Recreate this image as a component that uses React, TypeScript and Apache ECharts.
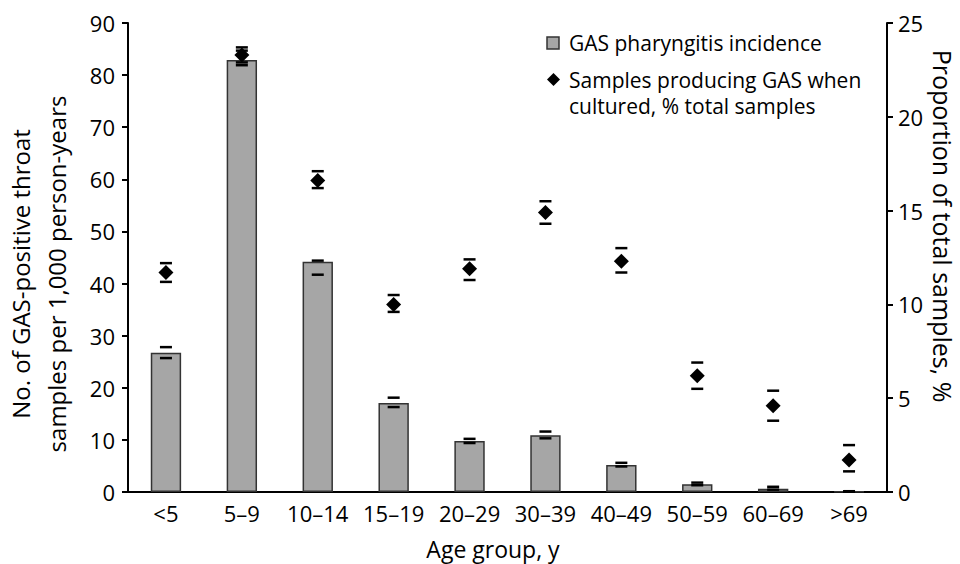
import React, { useEffect, useRef } from "react";
import * as echarts from "echarts";

const categories = ["<5", "5–9", "10–14", "15–19", "20–29", "30–39", "40–49", "50–59", "60–69", ">69"];
const incidence = [26.7, 82.9, 44.2, 17.1, 9.8, 10.9, 5.2, 1.5, 0.6, 0.1];
const incidenceLow = [25.7, 81.9, 41.7, 16.3, 9.4, 10.3, 4.9, 1.3, 0.45, 0.05];
const incidenceHigh = [27.8, 84.7, 44.4, 18.1, 10.2, 11.6, 5.6, 1.8, 1.0, 0.15];
const proportion = [11.7, 23.3, 16.6, 10.0, 11.9, 14.9, 12.3, 6.2, 4.6, 1.7];
const proportionLow = [11.2, 22.9, 16.2, 9.6, 11.3, 14.3, 11.7, 5.5, 3.8, 1.1];
const proportionHigh = [12.2, 23.7, 17.1, 10.5, 12.4, 15.5, 13.0, 6.9, 5.4, 2.5];
const leftTicks = { min: 0, max: 90, interval: 10 };
const rightTicks = { min: 0, max: 25, interval: 5 };

const FONT = '"Open Sans", "DejaVu Sans", sans-serif';

function capsRender(params: any, api: any) {
  const x = api.value(0);
  const lo = api.coord([x, api.value(1)]);
  const hi = api.coord([x, api.value(2)]);
  const half = 6;
  const style = { stroke: "#000", lineWidth: 2.5 };
  return {
    type: "group",
    children: [
      { type: "line", shape: { x1: lo[0] - half, y1: lo[1], x2: lo[0] + half, y2: lo[1] }, style },
      { type: "line", shape: { x1: hi[0] - half, y1: hi[1], x2: hi[0] + half, y2: hi[1] }, style },
    ],
  };
}

export default function App() {
  const ref = useRef<HTMLDivElement>(null);
  useEffect(() => {
    if (!ref.current) return;
    const chart = echarts.init(ref.current, null, { renderer: "svg" });
    const axisLine = { show: true, lineStyle: { color: "#000", width: 2 } };
    chart.setOption({
      animation: false,
      backgroundColor: "#fff",
      textStyle: { fontFamily: FONT },
      grid: { left: 128, right: 73, top: 23, bottom: 72, containLabel: false },
      xAxis: {
        type: "category",
        data: categories,
        axisLine,
        axisTick: { show: false },
        axisLabel: { color: "#000", fontSize: 22, fontFamily: FONT, margin: 10, interval: 0 },
        splitLine: { show: false },
      },
      yAxis: [
        {
          type: "value",
          position: "left",
          ...leftTicks,
          axisLine,
          axisTick: { show: true, length: 6, lineStyle: { color: "#000", width: 2 } },
          axisLabel: { color: "#000", fontSize: 22, fontFamily: FONT, margin: 13 },
          splitLine: { show: false },
        },
        {
          type: "value",
          position: "right",
          ...rightTicks,
          axisLine,
          axisTick: { show: true, length: 6, lineStyle: { color: "#000", width: 2 } },
          axisLabel: { color: "#000", fontSize: 22, fontFamily: FONT, margin: 11 },
          splitLine: { show: false },
        },
      ],
      series: [
        {
          name: "GAS pharyngitis incidence",
          type: "bar",
          yAxisIndex: 0,
          data: incidence,
          barWidth: "40%",
          itemStyle: { color: "#a6a6a6", borderColor: "#333", borderWidth: 1.5 },
        },
        {
          name: "incidence CI",
          type: "custom",
          yAxisIndex: 0,
          renderItem: capsRender,
          data: categories.map((_, i) => [i, incidenceLow[i], incidenceHigh[i]]),
          encode: { x: 0, y: [1, 2] },
          z: 5,
        },
        {
          name: "Samples producing GAS when cultured, % total samples",
          type: "scatter",
          yAxisIndex: 1,
          data: proportion,
          symbol: "diamond",
          symbolSize: 15,
          itemStyle: { color: "#000", opacity: 1 },
          z: 6,
        },
        {
          name: "proportion CI",
          type: "custom",
          yAxisIndex: 1,
          renderItem: capsRender,
          data: categories.map((_, i) => [i, proportionLow[i], proportionHigh[i]]),
          encode: { x: 0, y: [1, 2] },
          z: 5,
        },
      ],
      graphic: [
        {
          type: "rect",
          shape: { x: 547, y: 37, width: 12, height: 12 },
          style: { fill: "#a6a6a6", stroke: "#333", lineWidth: 1.5 },
        },
        {
          type: "text",
          x: 569,
          y: 43,
          style: { text: "GAS pharyngitis incidence", fontSize: 21, fontFamily: FONT, fill: "#000", verticalAlign: "middle" },
        },
        {
          type: "polygon",
          shape: { points: [[553.5, 73], [560, 79.5], [553.5, 86], [547, 79.5]] },
          style: { fill: "#000" },
        },
        {
          type: "text",
          x: 569,
          y: 80,
          style: { text: "Samples producing GAS when", fontSize: 21, fontFamily: FONT, fill: "#000", verticalAlign: "middle" },
        },
        {
          type: "text",
          x: 569,
          y: 106,
          style: { text: "cultured, % total samples", fontSize: 21, fontFamily: FONT, fill: "#000", verticalAlign: "middle" },
        },
        {
          type: "text",
          x: 38,
          y: 274,
          rotation: Math.PI / 2,
          style: {
            text: "No. of GAS-positive throat\nsamples per 1,000 person-years",
            fontSize: 24,
            lineHeight: 36,
            fontFamily: FONT,
            fill: "#000",
            align: "center",
            verticalAlign: "middle",
          },
        },
        {
          type: "text",
          x: 943,
          y: 226,
          rotation: -Math.PI / 2,
          style: {
            text: "Proportion of total samples, %",
            fontSize: 25,
            lineHeight: 26,
            fontFamily: FONT,
            fill: "#000",
            align: "center",
            verticalAlign: "middle",
          },
        },
        {
          type: "text",
          x: 493,
          y: 549,
          style: {
            text: "Age group, y",
            fontSize: 23,
            lineHeight: 22,
            fontFamily: FONT,
            fill: "#000",
            align: "center",
            verticalAlign: "middle",
          },
        },
      ],
    });
    return () => chart.dispose();
  }, []);
  return <div ref={ref} style={{ width: 960, height: 564, position: "absolute", left: 0, top: 0 }} />;
}
